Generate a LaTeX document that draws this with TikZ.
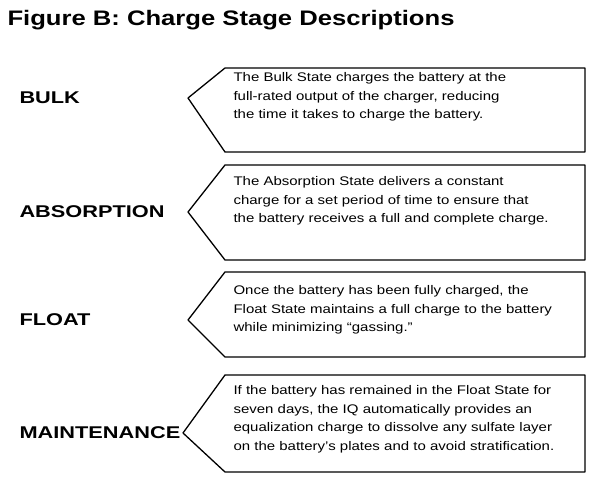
\documentclass[tikz,border=0pt]{standalone}
\usepackage{fontspec}
\setmainfont{Liberation Sans}
\newfontfamily\wideA[FakeStretch=1.2]{Liberation Sans}
\newfontfamily\wideB[FakeStretch=1.28]{Liberation Sans}
\newfontfamily\wideC[FakeStretch=1.22]{Liberation Sans}
\begin{document}
\begin{tikzpicture}[x=1pt,y=-1pt,
  lbl/.style={anchor=west,font=\wideB\fontsize{17}{19}\selectfont\bfseries},
  desc/.style={anchor=north west,align=left,font=\wideA\fontsize{12.5}{18.5}\selectfont},
  shell/.style={draw=black,line width=1.3pt,line join=round}]
\useasboundingbox (0,0) rectangle (600,485);
\node[anchor=west,font=\wideC\fontsize{21}{24}\selectfont\bfseries] (title) at (4,20) {Figure B: Charge Stage Descriptions};
% box 1
\draw[shell] (225,68) -- (585,68) -- (585,152) -- (225,152) -- (188,98) -- cycle;
\node[lbl] (l1) at (16,98) {BULK};
\node[desc] (d1) at (230,69) {The Bulk State charges the battery at the\\full-rated output of the charger, reducing\\the time it takes to charge the battery.};
% box 2
\draw[shell] (225,165) -- (585,165) -- (585,260) -- (225,260) -- (188,212) -- cycle;
\node[lbl] (l2) at (16,212) {ABSORPTION};
\node[desc] (d2) at (230,173) {The Absorption State delivers a constant\\charge for a set period of time to ensure that\\the battery receives a full and complete charge.};
% box 3
\draw[shell] (225,272) -- (585,272) -- (585,357) -- (225,357) -- (188,320) -- cycle;
\node[lbl] (l3) at (16,320) {FLOAT};
\node[desc] (d3) at (230,282) {Once the battery has been fully charged, the\\Float State maintains a full charge to the battery\\while minimizing “gassing.”};
% box 4
\draw[shell] (225,375) -- (585,375) -- (585,472) -- (225,472) -- (183,433) -- cycle;
\node[lbl] (l4) at (16,433) {MAINTENANCE};
\node[desc] (d4) at (230,382) {If the battery has remained in the Float State for\\seven days, the IQ automatically provides an\\equalization charge to dissolve any sulfate layer\\on the battery’s plates and to avoid stratification.};
\end{tikzpicture}
\end{document}
